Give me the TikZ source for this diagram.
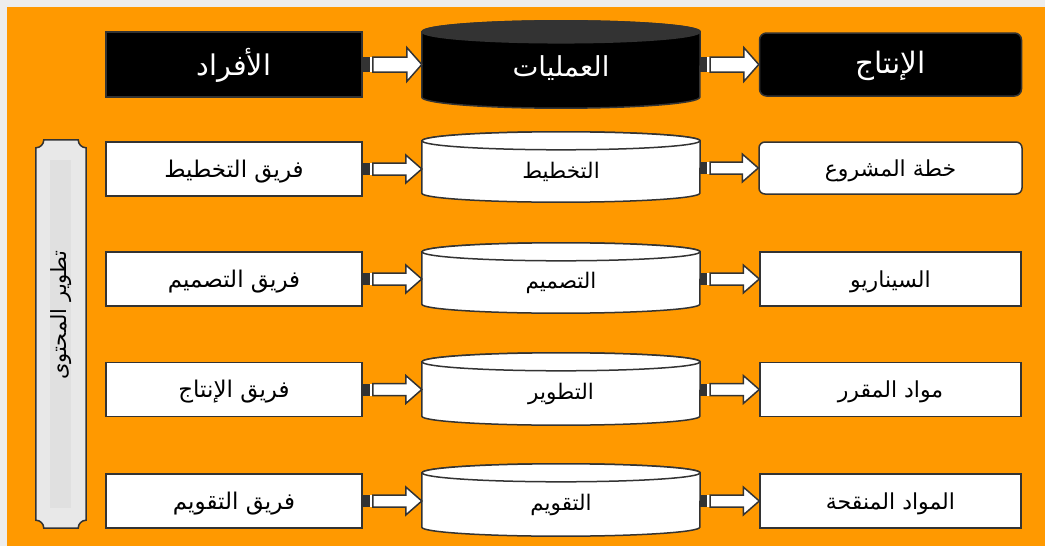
\documentclass[tikz,border=0pt]{standalone}
\usepackage{fontspec}
\usetikzlibrary{calc}
\TeXXeTstate=1
\newfontfamily\arabicfont[Script=Arabic]{DejaVu Sans}
\pgfdeclarelayer{back}
\pgfsetlayers{back,main}
\definecolor{orangebg}{HTML}{FF9900}
\definecolor{edge}{HTML}{333333}
\definecolor{margin}{HTML}{EDEDED}
\definecolor{bandfill}{HTML}{E8E8E8}
\definecolor{bandinner}{HTML}{E0E0E0}
\definecolor{topface}{HTML}{333333}
% Arabic text, lowered by the optional amount while keeping its box size
\newcommand\ar[2][0pt]{\raisebox{-#1}[\height][\depth]{\arabicfont\beginR #2\endR}}
% cylinder drawn behind a named node: node, body fill, top fill, y radius
\newcommand\cylshape[4]{%
  \begin{pgfonlayer}{back}
  \draw[edge, line width=1.5pt, fill=#2] let \p1=(#1.north west), \p2=(#1.south east) in
    (\x1,\y1) -- (\x1,\y2) arc[start angle=180,end angle=360,x radius=139pt,y radius=#4]
    -- (\x2,\y1) arc[start angle=0,end angle=180,x radius=139pt,y radius=#4] -- cycle;
  \draw[edge, line width=1.5pt, fill=#3] (#1.north) ellipse[x radius=139pt,y radius=#4];
  \end{pgfonlayer}}
% striped block arrow: from, to, node giving y, body half, head half, head length
\newcommand\striparrow[6]{%
  \fill[edge] let \p1=(#1.east), \p3=(#3.center) in
    (\x1,\y3+#4) rectangle (\x1+7pt,\y3-#4);
  \fill[white] let \p1=(#1.east), \p3=(#3.center) in
    (\x1+7pt,\y3+#4) rectangle (\x1+10pt,\y3-#4);
  \draw[edge, line width=1.5pt, fill=white, line join=miter] let \p1=(#1.east), \p2=(#2.west), \p3=(#3.center) in
    (\x1+10pt,\y3+#4) -- (\x2-#6,\y3+#4) -- (\x2-#6,\y3+#5) -- (\x2,\y3)
    -- (\x2-#6,\y3-#5) -- (\x2-#6,\y3-#4) -- (\x1+10pt,\y3-#4) -- cycle;}
\begin{document}
\begin{tikzpicture}[x=1pt,y=-1pt,
  box/.style={draw=edge, line width=1.5pt, fill=white, minimum width=256pt,
    minimum height=54pt, inner sep=0pt, font=\fontsize{23}{25}\selectfont},
  rbox/.style={box, minimum width=261pt, font=\fontsize{22}{24}\selectfont},
  headbox/.style={draw=edge, line width=1.5pt, fill=black, text=white, inner sep=0pt,
    minimum height=65pt, font=\fontsize{28.5}{30}\selectfont},
  cylnode/.style={minimum width=278pt, inner sep=0pt, font=\fontsize{21.5}{23}\selectfont},
  headcyl/.style={cylnode, text=white, font=\fontsize{27.5}{30}\selectfont}
]
\useasboundingbox (0,0) rectangle (1045,546);
\begin{pgfonlayer}{back}
\fill[margin] (0,0) rectangle (1045,546);
\fill[orangebg] (7,7) rectangle (1045,546);
\end{pgfonlayer}

% header row
\node[headbox, minimum width=256pt] (hL) at (234,64.5) {\ar[1pt]{الأفراد}};
\node[headcyl, minimum height=65pt] (hC) at (561,64.5) {\ar[4pt]{العمليات}};
\cylshape{hC}{black}{topface}{11pt}
\node[headbox, minimum width=262pt, minimum height=63pt, rounded corners=7pt, font=\fontsize{29.5}{31}\selectfont] (hR) at (890.5,64.5) {\ar[1pt]{الإنتاج}};

% rows
\node[box] (L1) at (234,169) {\ar[2.5pt]{فريق التخطيط}};
\node[box] (L2) at (234,279) {\ar[2.5pt]{فريق التصميم}};
\node[box] (L3) at (234,389.5) {\ar[2.5pt]{فريق الإنتاج}};
\node[box] (L4) at (234,501) {\ar[2.5pt]{فريق التقويم}};

\node[cylnode, minimum height=52pt] (C1) at (561,167) {\ar[5pt]{التخطيط}};
\node[cylnode, minimum height=52pt] (C2) at (561,278) {\ar[5pt]{التصميم}};
\node[cylnode, minimum height=54pt] (C3) at (561,389) {\ar[5pt]{التطوير}};
\node[cylnode, minimum height=54pt] (C4) at (561,500) {\ar[5pt]{التقويم}};
\cylshape{C1}{white}{white}{9pt}
\cylshape{C2}{white}{white}{9pt}
\cylshape{C3}{white}{white}{9pt}
\cylshape{C4}{white}{white}{9pt}

\node[rbox, minimum width=263pt, minimum height=52pt, rounded corners=6pt] (R1) at (890.5,168) {\ar[2.5pt]{خطة المشروع}};
\node[rbox] (R2) at (890.5,279) {\ar[2.5pt]{السيناريو}};
\node[rbox] (R3) at (890.5,389.5) {\ar[2.5pt]{مواد المقرر}};
\node[rbox] (R4) at (890.5,501) {\ar[2.5pt]{المواد المنقحة}};

% arrows
\striparrow{hL}{hC}{hL}{7.5pt}{17pt}{15pt}
\striparrow{hC}{hR}{hR}{7.5pt}{17pt}{15pt}
\striparrow{L1}{C1}{L1}{6pt}{14pt}{16pt}
\striparrow{L2}{C2}{L2}{6pt}{14pt}{16pt}
\striparrow{L3}{C3}{L3}{6pt}{14pt}{16pt}
\striparrow{L4}{C4}{L4}{6pt}{14pt}{16pt}
\striparrow{C1}{R1}{R1}{6pt}{14pt}{16pt}
\striparrow{C2}{R2}{R2}{6pt}{14pt}{16pt}
\striparrow{C3}{R3}{R3}{6pt}{14pt}{16pt}
\striparrow{C4}{R4}{R4}{6pt}{14pt}{16pt}

% left band
\node[minimum width=50pt, minimum height=388pt, inner sep=0pt] (band) at (61,334) {};
\begin{pgfonlayer}{back}
\draw[edge, line width=1.5pt, fill=bandfill] let \p1=(band.north west), \p2=(band.south east) in
  (\x1+8pt,\y1) -- (\x2-8pt,\y1) arc[start angle=180,end angle=270,radius=8pt]
  -- (\x2,\y2+8pt) arc[start angle=90,end angle=180,radius=8pt]
  -- (\x1+8pt,\y2) arc[start angle=0,end angle=90,radius=8pt]
  -- (\x1,\y1-8pt) arc[start angle=-90,end angle=0,radius=8pt] -- cycle;
\fill[bandinner] (50,160) rectangle (71,508);
\end{pgfonlayer}
\node[rotate=90, font=\fontsize{21}{23}\selectfont, inner sep=0pt] (bandtext) at (61,315) {\ar{تطوير المحتوى}};
\end{tikzpicture}
\end{document}
